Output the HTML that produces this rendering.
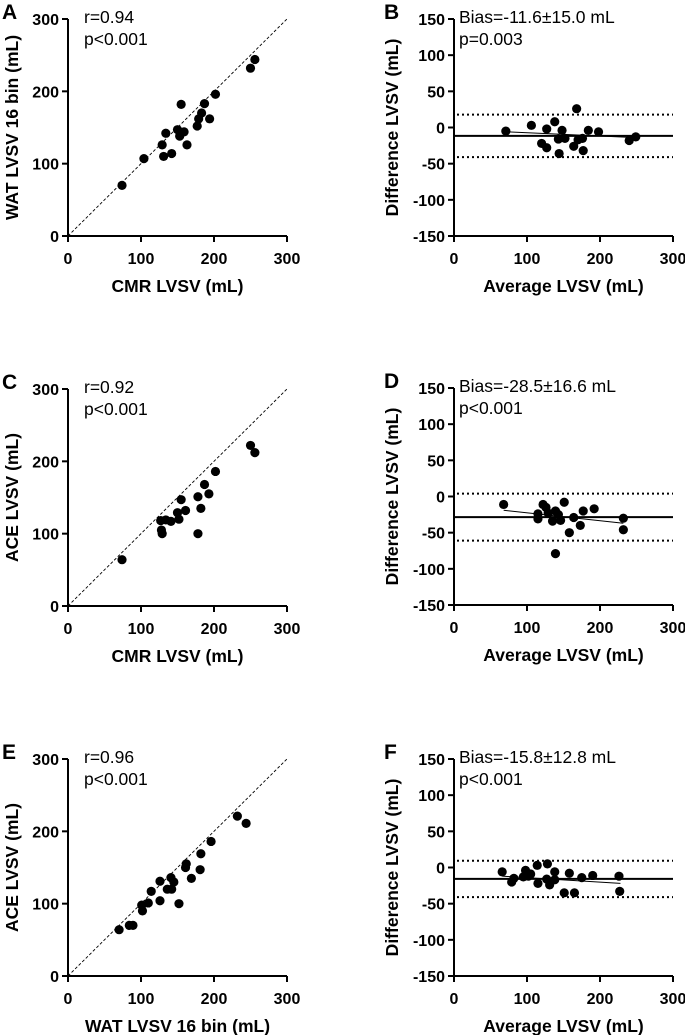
<!DOCTYPE html>
<html><head><meta charset="utf-8"><style>
html,body{margin:0;padding:0;background:#fff;}
svg{display:block;font-family:"Liberation Sans",Arial,sans-serif;}
.tk{font-weight:bold;font-size:16px;}
.ti{font-weight:bold;font-size:17.5px;}
.lt{font-weight:bold;font-size:21px;}
.an{font-size:17.5px;}
</style></head><body>
<svg id="fig" width="685" height="1035" viewBox="0 0 685 1035"></svg>
<script>
// Panel A: CMR vs WAT
const aX=[74,104,131,142,129,134,150,153,159,163,155,177,179,183,187,194,202,250,256];
const aY=[70,107,110,114,126,142,147,138,144,126,182,152,162,170,183,162,196,232,244];
// Panel B: Bland-Altman CMR vs WAT
const bX=[71,106,120,127,127,138,148,143,152,144,164,168,170,176,177,184,198,240,249];
const bY=[-5,3,-22,-2,-28,8,-4,-16,-15,-36,-26,26,-17,-15,-32,-4,-6,-18,-13];
const bStats=[-11.6,17.8,-41.0]; const bReg=[[72,-6],[250,-14]];
// Panel C: CMR vs ACE
const cX=[74,127,128,129,134,141,150,152,155,161,178,178,182,187,193,202,250,256];
const cY=[64,118,105,100,119,117,129,120,147,132,100,151,135,168,155,186,222,212];
// Panel D
const dX=[68,115,115,122,126,129,135,139,143,139,146,151,158,164,173,177,192,232,232];
const dY=[-11,-24,-31,-11,-15,-23,-34,-20,-25,-79,-33,-8,-50,-29,-40,-20,-17,-30,-46];
const dStats=[-28.5,4.0,-61.0]; const dReg=[[68,-19],[232,-37]];
// Panel E: WAT vs ACE
const eX=[70,84,89,101,102,110,114,126,126,136,141,142,145,152,162,161,169,181,182,196,232,244];
const eY=[64,70,70,98,90,101,117,104,131,120,136,120,130,100,155,150,135,147,169,186,221,211];
// Panel F
const fX=[66,79,82,95,98,105,102,114,115,128,127,131,138,138,151,158,165,175,190,226,227];
const fY=[-6,-20,-15,-13,-4,-9,-12,3,-22,5,-16,-24,-6,-17,-35,-8,-35,-14,-11,-12,-33];
const fStats=[-15.8,9.3,-40.9]; const fReg=[[66,-12],[228,-22]];
const scatterTicks=[0,100,200,300];
const diffTicks=[150,100,50,0,-50,-100,-150];

const svg=document.getElementById('fig');
const NS='http://www.w3.org/2000/svg';
function mk(tag,attrs,parent,text){const e=document.createElementNS(NS,tag);for(const k in attrs)e.setAttribute(k,attrs[k]);if(text!==undefined)e.textContent=text;(parent||svg).appendChild(e);return e;}

function panel(cfg){
  const g=mk('g',{});
  
  
  const L=cfg.left,R=cfg.left+219,T=cfg.top,B=cfg.top+217;
  const sx=v=>L+(v-0)/300*(R-L);
  const sy=v=>B-(v-cfg.ymin)/(cfg.ymax-cfg.ymin)*(B-T);
  const lt=mk('text',{x:cfg.lx,y:T-0,class:'lt'},g,cfg.letter);
  
  
  const ax=mk('path',{d:`M${L} ${T} V${B} H${R}`,stroke:'#000','stroke-width':2,fill:'none'},g);
  
  
  scatterTicks.forEach(t=>{
    mk('line',{x1:sx(t),x2:sx(t),y1:B,y2:B+6,stroke:'#000','stroke-width':2},g);
    const tx=mk('text',{x:sx(t),y:B+28,class:'tk','text-anchor':'middle'},g,t);
    
    
  });
  cfg.yticks.forEach(t=>{
    mk('line',{x1:L-6,x2:L,y1:sy(t),y2:sy(t),stroke:'#000','stroke-width':2},g);
    const ty=mk('text',{x:L-9,y:sy(t)+6,class:'tk','text-anchor':'end'},g,t);
    
    
  });
  const xt=mk('text',{x:(L+R)/2,y:B+56,class:'ti','text-anchor':'middle'},g,cfg.xtitle);
  
  
  const yc=(T+B)/2;
  const yt=mk('text',{x:cfg.ytx,y:yc,class:'ti','text-anchor':'middle',transform:`rotate(-90 ${cfg.ytx} ${yc})`},g,cfg.ytitle);
  
  
  cfg.ann.forEach((s,i)=>{
    const a=mk('text',{x:L+cfg.annx,y:T+4+i*22,class:'an'},g,s);
    
    
  });
  if(cfg.identity){
    const id=mk('line',{x1:sx(0),y1:sy(0),x2:sx(300),y2:sy(300),stroke:'#000','stroke-width':0.9,'stroke-dasharray':'3,2'},g);
    
    
  }
  if(cfg.stats){
    const m=mk('line',{x1:L,x2:R,y1:sy(cfg.stats[0]),y2:sy(cfg.stats[0]),stroke:'#000','stroke-width':2},g);
    
    
    [1,2].forEach(i=>{
      const l=mk('line',{x1:L+3,x2:R,y1:sy(cfg.stats[i]),y2:sy(cfg.stats[i]),stroke:'#000','stroke-width':2,'stroke-dasharray':'2,3'},g);
      
      
    });
    const r=mk('line',{x1:sx(cfg.reg[0][0]),y1:sy(cfg.reg[0][1]),x2:sx(cfg.reg[1][0]),y2:sy(cfg.reg[1][1]),stroke:'#000','stroke-width':1},g);
    
    
  }
  cfg.xs.forEach((v,i)=>{
    const c=mk('circle',{cx:sx(v),cy:sy(cfg.ys[i]),r:4.6,fill:'#000'},g);
    
    
  });
}
const Ly=[300,200,100,0];
panel({letter:'A',left:68,top:19,ymin:0,ymax:300,yticks:Ly,xs:aX,ys:aY,identity:true,xtitle:'CMR LVSV (mL)',ytitle:'WAT LVSV 16 bin (mL)',ytx:18,lx:2,ann:['r=0.94','p<0.001'],annx:16});
panel({letter:'B',left:454,top:19,ymin:-150,ymax:150,yticks:diffTicks,xs:bX,ys:bY,stats:bStats,reg:bReg,xtitle:'Average LVSV (mL)',ytitle:'Difference LVSV (mL)',ytx:398,lx:384,ann:['Bias=-11.6±15.0 mL','p=0.003'],annx:5});
panel({letter:'C',left:68,top:389,ymin:0,ymax:300,yticks:Ly,xs:cX,ys:cY,identity:true,xtitle:'CMR LVSV (mL)',ytitle:'ACE LVSV (mL)',ytx:18,lx:2,ann:['r=0.92','p<0.001'],annx:16});
panel({letter:'D',left:454,top:388,ymin:-150,ymax:150,yticks:diffTicks,xs:dX,ys:dY,stats:dStats,reg:dReg,xtitle:'Average LVSV (mL)',ytitle:'Difference LVSV (mL)',ytx:398,lx:384,ann:['Bias=-28.5±16.6 mL','p<0.001'],annx:5});
panel({letter:'E',left:68,top:759,ymin:0,ymax:300,yticks:Ly,xs:eX,ys:eY,identity:true,xtitle:'WAT LVSV 16 bin (mL)',ytitle:'ACE LVSV (mL)',ytx:18,lx:2,ann:['r=0.96','p<0.001'],annx:16});
panel({letter:'F',left:454,top:759,ymin:-150,ymax:150,yticks:diffTicks,xs:fX,ys:fY,stats:fStats,reg:fReg,xtitle:'Average LVSV (mL)',ytitle:'Difference LVSV (mL)',ytx:398,lx:384,ann:['Bias=-15.8±12.8 mL','p<0.001'],annx:5});
</script>
</body></html>
